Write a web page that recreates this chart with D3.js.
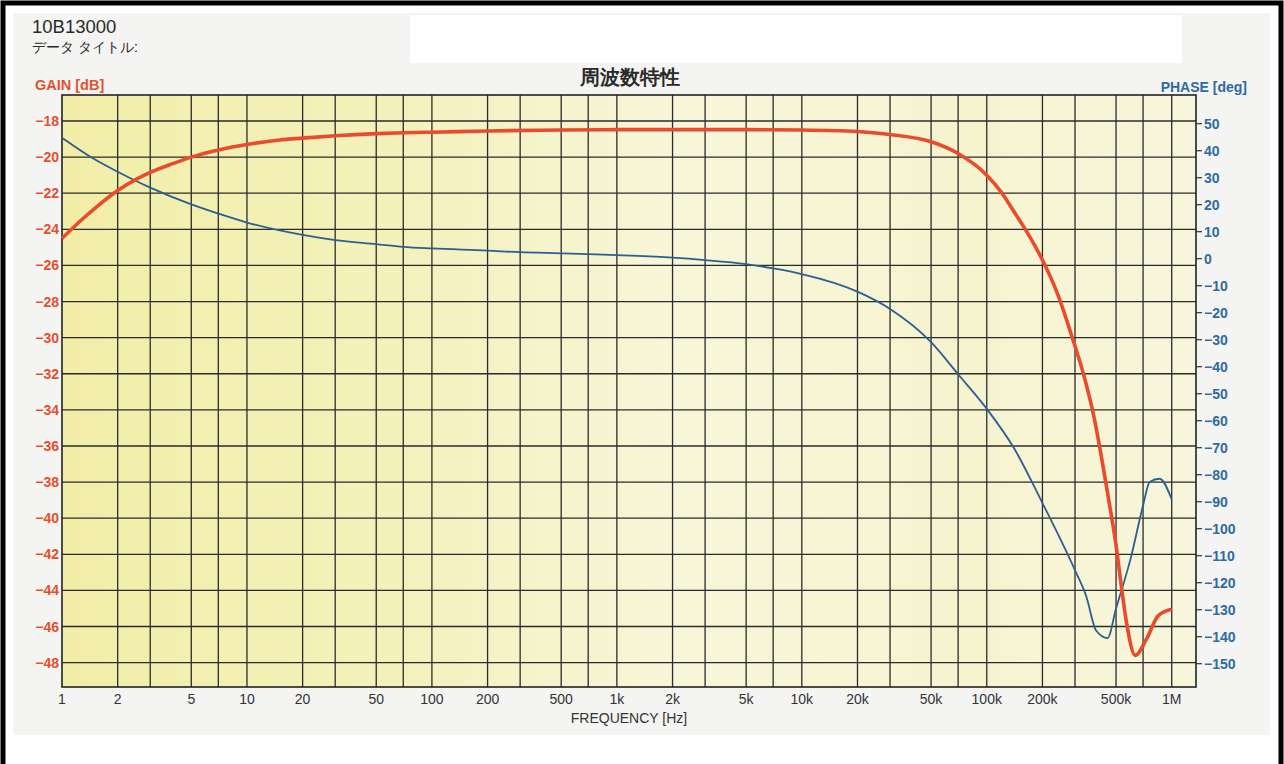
<!DOCTYPE html>
<html>
<head>
<meta charset="utf-8">
<script src="https://cdn.jsdelivr.net/npm/d3@7"></script>
<style>
  html, body { margin: 0; padding: 0; background: #fff; }
  svg { display: block; }
  text { font-family: "Liberation Sans", Arial, sans-serif; }
</style>
</head>
<body>
<div id="chart"></div>
<script>
// gain curve (dB)
const gainFreq = [1, 1.3, 1.5, 2, 2.5, 3, 4, 5, 7, 10, 15, 20, 30, 50, 70, 100, 200, 500,
  1e3, 2e3, 5e3, 1e4, 2e4, 3e4, 5e4, 7e4, 1e5, 1.2e5, 1.4e5, 1.66e5, 2e5, 2.42e5, 2.9e5,
  3.35e5, 3.8e5, 4.2e5, 4.55e5, 5e5, 5.3e5, 5.7e5, 6.35e5, 7.3e5, 8.46e5, 1e6];
const gainDb = [-24.5, -23.4, -22.85, -21.85, -21.25, -20.85, -20.35, -20.0, -19.6, -19.3, -19.05, -18.95, -18.82, -18.7, -18.65, -18.62, -18.55, -18.5,
  -18.48, -18.48, -18.48, -18.5, -18.58, -18.75, -19.15, -19.8, -21.0, -21.95, -23.0, -24.2, -25.7, -27.6, -30.0,
  -32.1, -34.4, -36.8, -38.9, -41.5, -43.5, -45.8, -47.6, -46.7, -45.4, -45.05];

// phase curve (deg)
const phaseFreq = [1, 1.5, 2, 3, 5, 7, 10, 20, 30, 50, 70, 100, 200, 300, 500, 700,
  1e3, 2e3, 3e3, 5e3, 7e3, 1e4, 2e4, 3e4, 5e4, 7e4, 1e5, 1.41e5, 2e5, 3e5, 3.45e5, 3.9e5,
  4.5e5, 5e5, 6e5, 7e5, 7.6e5, 8.6e5, 1e6];
const phaseDeg = [44.8, 36.8, 32.2, 26.3, 20.1, 16.7, 13.4, 8.8, 6.9, 5.4, 4.4, 3.8, 3.0, 2.4, 2.0, 1.7,
  1.3, 0.4, -0.5, -2.0, -3.6, -5.7, -12.2, -18.6, -30.9, -42.8, -55.6, -70.4, -90.5, -115.4, -125, -137.7,
  -140.5, -129.6, -111, -91.4, -82.7, -81.5, -89.1];

// axes
const freqTicks = [1, 2, 5, 10, 20, 50, 100, 200, 500, 1e3, 2e3, 5e3, 1e4, 2e4, 5e4, 1e5, 2e5, 5e5, 1e6];
const freqTickLabels = ["1", "2", "5", "10", "20", "50", "100", "200", "500", "1k", "2k", "5k", "10k", "20k", "50k", "100k", "200k", "500k", "1M"];
const gridMantissa = [1, 2, 3, 5, 7];
const gainTicks = d3.range(-18, -49, -2);
const phaseTicks = d3.range(50, -151, -10);

const width = 1284, height = 764;
const plotL = 62, plotR = 1196, plotT = 95, plotB = 687;

const svg = d3.select("#chart").append("svg")
  .attr("width", width).attr("height", height);

// paper + frame
svg.append("rect").attr("x", 13).attr("y", 13).attr("width", 1257).attr("height", 722).attr("fill", "#f4f4f2");
svg.append("rect").attr("x", 410).attr("y", 15).attr("width", 772).attr("height", 48).attr("fill", "#fff");
svg.append("path").attr("d", `M3,${height} V3 H${width - 3} V${height}`)
  .attr("fill", "none").attr("stroke", "#000").attr("stroke-width", 5);

const x = d3.scaleLog().domain([1, 1.353e6]).range([plotL, plotR]);
const yGain = d3.scaleLinear().domain([-49.35, -16.56]).range([plotB, plotT]);
const yPhase = d3.scaleLinear().domain([-158.63, 60.63]).range([plotB, plotT]);

// plot background
const grad = svg.append("defs").append("linearGradient").attr("id", "bg");
grad.selectAll("stop")
  .data([["0%", "#f2eea8"], ["30%", "#f4f1bc"], ["55%", "#f7f6d9"], ["80%", "#f6f4cf"], ["100%", "#f7f6dc"]])
  .join("stop").attr("offset", d => d[0]).attr("stop-color", d => d[1]);
svg.append("rect").attr("x", plotL).attr("y", plotT).attr("width", plotR - plotL).attr("height", plotB - plotT)
  .attr("fill", "url(#bg)");

// grid
const gridFreqs = [];
for (let e = 0; e <= 6; e++) gridMantissa.forEach(m => { const f = m * 10 ** e; if (f > 1 && f <= 1e6) gridFreqs.push(f); });

const grid = svg.append("g").attr("stroke", "#2b2b2b").attr("stroke-width", 1.3);
grid.selectAll("line.v").data(gridFreqs).join("line").attr("class", "v")
  .attr("x1", d => x(d)).attr("x2", d => x(d)).attr("y1", plotT).attr("y2", plotB);
grid.selectAll("line.h").data(gainTicks).join("line").attr("class", "h")
  .attr("x1", plotL).attr("x2", plotR).attr("y1", d => yGain(d)).attr("y2", d => yGain(d));
svg.append("rect").attr("x", plotL).attr("y", plotT).attr("width", plotR - plotL).attr("height", plotB - plotT)
  .attr("fill", "none").attr("stroke", "#222").attr("stroke-width", 1.6);

// left axis (gain)
svg.append("g").selectAll("text").data(gainTicks).join("text")
  .attr("x", plotL - 3).attr("y", d => yGain(d) + 5)
  .attr("text-anchor", "end").attr("font-size", 14).attr("font-weight", "bold").attr("fill", "#e4512f")
  .text(d => String(d).replace("-", "\u2212"));

// right axis (phase)
const ph = svg.append("g");
ph.selectAll("line").data(phaseTicks).join("line")
  .attr("x1", plotR).attr("x2", plotR + 6).attr("y1", d => yPhase(d)).attr("y2", d => yPhase(d))
  .attr("stroke", "#333").attr("stroke-width", 1.2);
ph.selectAll("text").data(phaseTicks).join("text")
  .attr("x", plotR + 8).attr("y", d => yPhase(d) + 5)
  .attr("font-size", 14).attr("font-weight", "bold").attr("fill", "#2f6aa3")
  .text(d => String(d).replace("-", "\u2212"));

// bottom axis
svg.append("g").selectAll("text").data(freqTicks).join("text")
  .attr("x", d => x(d)).attr("y", 704)
  .attr("text-anchor", "middle").attr("font-size", 14).attr("fill", "#333")
  .text((d, i) => freqTickLabels[i]);

// curves
const phaseLine = d3.line().x(d => x(d[0])).y(d => yPhase(d[1])).curve(d3.curveMonotoneX);
const gainLine = d3.line().x(d => x(d[0])).y(d => yGain(d[1])).curve(d3.curveMonotoneX);

svg.append("path").datum(d3.zip(phaseFreq, phaseDeg))
  .attr("d", phaseLine).attr("fill", "none").attr("stroke", "#2b5f92").attr("stroke-width", 1.8);
svg.append("path").datum(d3.zip(gainFreq, gainDb))
  .attr("d", gainLine).attr("fill", "none").attr("stroke", "#ea4b2c").attr("stroke-width", 3.6)
  .attr("stroke-linejoin", "round");

// texts
svg.append("text").attr("x", 32).attr("y", 33).attr("font-size", 18.5).attr("fill", "#2a2a2a").text("10B13000");
svg.append("text").attr("x", 32).attr("y", 52).attr("font-size", 14).attr("fill", "#2a2a2a")
  .attr("font-family", "'Noto Sans CJK JP', sans-serif").text("データ タイトル:");
svg.append("text").attr("x", 35).attr("y", 90).attr("font-size", 14.5).attr("font-weight", "bold")
  .attr("fill", "#e4512f").text("GAIN [dB]");
svg.append("text").attr("x", 1247).attr("y", 92).attr("text-anchor", "end").attr("font-size", 14)
  .attr("font-weight", "bold").attr("fill", "#2f6aa3").text("PHASE [deg]");
svg.append("text").attr("x", 630).attr("y", 84).attr("text-anchor", "middle").attr("font-size", 19.5)
  .attr("font-weight", "bold").attr("fill", "#2a2a2a")
  .attr("font-family", "'Noto Sans CJK JP', sans-serif").text("周波数特性");
svg.append("text").attr("x", 629).attr("y", 723).attr("text-anchor", "middle").attr("font-size", 14)
  .attr("fill", "#333").text("FREQUENCY [Hz]");
</script>
</body>
</html>
